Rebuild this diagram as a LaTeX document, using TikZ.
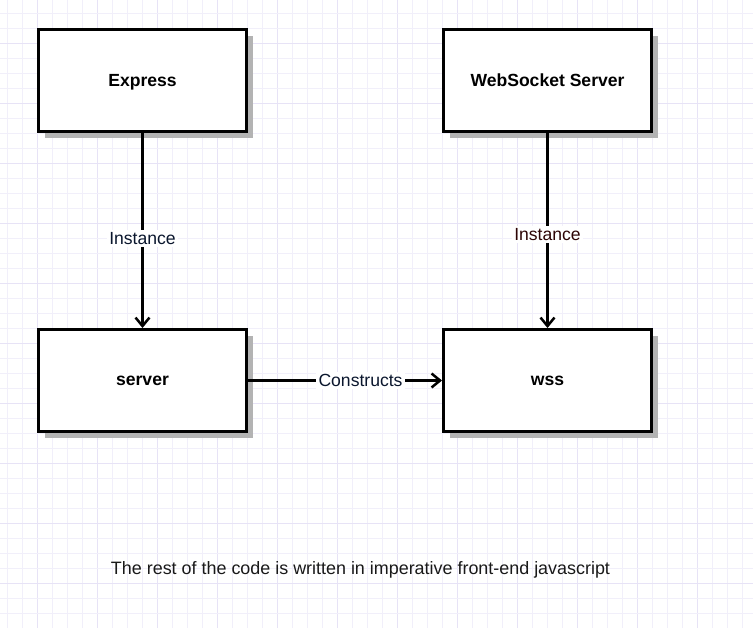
\documentclass[tikz,border=0pt]{standalone}
\usepackage{fontspec}
\setmainfont{Liberation Sans}
\usepackage{xcolor}
\usetikzlibrary{arrows.meta, positioning, shadows}

\definecolor{gridminor}{RGB}{241,239,250}
\definecolor{gridmajor}{RGB}{231,227,246}
\definecolor{shadowgray}{RGB}{179,179,179}
\definecolor{navytext}{RGB}{10,22,45}
\definecolor{redtext}{RGB}{45,5,5}

\begin{document}
\begin{tikzpicture}[
  x=0.02cm, y=-0.02cm,
  block/.style={rectangle, draw, line width=0.06cm, fill=white,
                minimum width=4.16cm, minimum height=2.04cm, text depth=0pt,
                font=\fontsize{10}{12}\selectfont\bfseries,
                drop shadow={shadow xshift=0.13cm, shadow yshift=-0.13cm,
                             fill=shadowgray, opacity=1}},
  arrow/.style={-{Straight Barb[length=0.17cm, width=0.28cm, line width=0.05cm]},
                line width=0.05cm},
  lbl/.style={fill=white, inner sep=1.5pt, font=\fontsize{10}{12}\selectfont}
]
\useasboundingbox (0,0) rectangle (753,628);
\fill[white] (0,0) rectangle (753,628);

% background grid
\foreach \i in {0,...,50} {
  \pgfmathtruncatemacro{\m}{mod(\i,4)}
  \ifnum\m=2 \def\gc{gridmajor}\else\def\gc{gridminor}\fi
  \draw[\gc, line width=0.03cm] ({7.5+15*\i},0) -- ({7.5+15*\i},628);
}
\foreach \j in {0,...,41} {
  \pgfmathtruncatemacro{\m}{mod(\j,4)}
  \ifnum\m=2 \def\gc{gridmajor}\else\def\gc{gridminor}\fi
  \draw[\gc, line width=0.03cm] (0,{13.3+15*\j}) -- (753,{13.3+15*\j});
}

\node[block] (express) at (142.5,80.5) {Express};
\node[block] (wsserver) at (547.5,80.5) {WebSocket Server};
\node[block] (server) at (142.5,380.5) {server};
\node[block] (wss) at (547.5,380.5) {wss};

\draw[arrow] (express) -- node[lbl, pos=0.54, text=navytext]{Instance} (server);
\draw[arrow] (wsserver) -- node[lbl, pos=0.52, text=redtext]{Instance} (wss);
\draw[arrow] (server) -- node[lbl, pos=0.58, text=navytext]{Constructs} (wss);

\node[font=\fontsize{10.2}{12}\selectfont, text=black!90] (note) at (360.5,569.5) {The rest of the code is written in imperative front-end javascript};
\end{tikzpicture}
\end{document}
